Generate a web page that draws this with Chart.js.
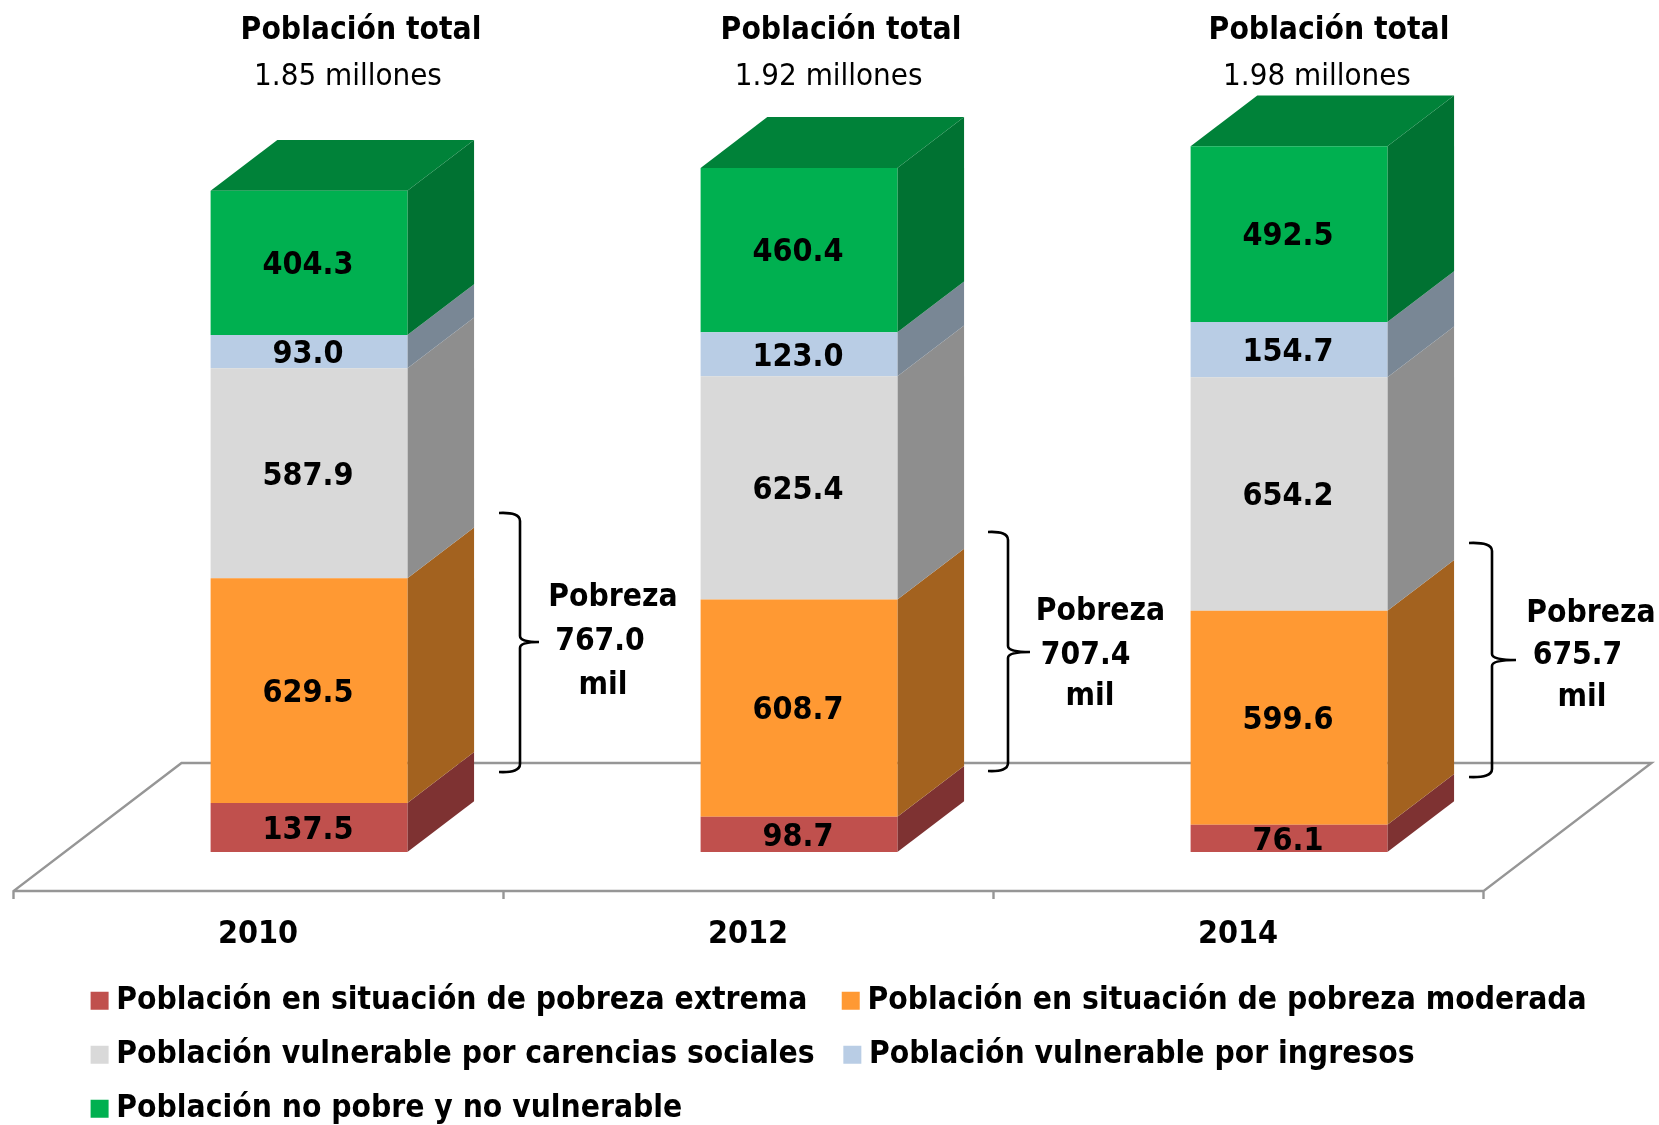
<!DOCTYPE html>
<html><head><meta charset="utf-8">
<style>html,body{margin:0;padding:0;background:#fff}#w{width:1659px;height:1125px}canvas{display:block}</style>
<script src="https://cdn.jsdelivr.net/npm/chart.js@4"></script>
</head><body><div id="w"><canvas id="c" width="1659" height="1125"></canvas></div>
<script>
const categories = ['2010','2012','2014'];
const extrema   = [137.5, 98.7, 76.1];
const moderada  = [629.5, 608.7, 599.6];
const carencias = [587.9, 625.4, 654.2];
const ingresos  = [93.0, 123.0, 154.7];
const noPobre   = [404.3, 460.4, 492.5];
const seriesNames = ['Población en situación de pobreza extrema','Población en situación de pobreza moderada','Población vulnerable por carencias sociales','Población vulnerable por ingresos','Población no pobre y no vulnerable'];
const totalTitle = 'Población total';
const totalLabels = ['1.85 millones','1.92 millones','1.98 millones'];
const pobrezaTitle = 'Pobreza';
const pobrezaValues = ['767.0','707.4','675.7'];
const pobrezaUnit = 'mil';

const FONT = '"DejaVu Sans Condensed","DejaVu Sans",sans-serif';
const FS = 32, TS = 31.5, SUB = 31, LEG = 31.5;
const frontColors = ['#C0504D','#FF9933','#D9D9D9','#B9CDE5','#00B050'];
const sideColors  = ['#7E3232','#A3621F','#8E8E8E','#798795','#007232'];
const topColor = '#008239';
const DX = 66.7, DY = 50.8;
const legendPad = ['\u2002\u2009','', '\u2002','',''];

// annotation placement, pixels
const titleX=[361,841,1329], subX=[348,828.6,1317];
const braceSpec=[{xs:499,xm:520,xt:539,top:513,mid:642,bot:772},{xs:988,xm:1008,xt:1030,top:532,mid:652,bot:771},{xs:1469,xm:1492,xt:1516,top:543,mid:660,bot:777}];
const pobText=[{a:613,b:600,c:603,y1:598,y2:642,y3:686},{a:1100.5,b:1085.6,c:1090,y1:612,y2:656,y3:697},{a:1591,b:1577.5,c:1582,y1:614,y2:656,y3:698}];

const view3d = {
  id:'view3d',
  afterLayout(chart){
    const l = chart.legend; l.left = 98.6 - (54-LEG); l.top = 962.5;
  },
  beforeDatasetsDraw(chart){
    const {ctx, scales:{x,y}} = chart;
    const base = y.getPixelForValue(0), step = x.getPixelForValue(1)-x.getPixelForValue(0);
    const fy = base+39, fx0 = x.getPixelForValue(0)-step/2-50.5, fx1 = fx0+step*3;
    const bdx = 168, bdy = 128;
    ctx.save();
    ctx.strokeStyle='#969696'; ctx.lineWidth=2.4;
    ctx.beginPath();
    ctx.moveTo(fx0,fy+8); ctx.lineTo(fx0,fy); ctx.lineTo(fx0+bdx,fy-bdy); ctx.lineTo(fx1+bdx,fy-bdy); ctx.lineTo(fx1,fy); ctx.lineTo(fx1,fy+8);
    ctx.moveTo(fx0,fy); ctx.lineTo(fx1,fy);
    for(let i=1;i<3;i++){ctx.moveTo(fx0+step*i,fy);ctx.lineTo(fx0+step*i,fy+8);}
    ctx.stroke();
    // side and top faces
    chart.data.datasets.forEach((d,di)=>{
      chart.getDatasetMeta(di).data.forEach(b=>{
        const r=b.x+b.width/2, l=b.x-b.width/2;
        ctx.fillStyle=sideColors[di];
        ctx.beginPath();ctx.moveTo(r,b.y);ctx.lineTo(r+DX,b.y-DY);ctx.lineTo(r+DX,b.base-DY);ctx.lineTo(r,b.base);ctx.closePath();ctx.fill();
        if(di===chart.data.datasets.length-1){
          ctx.fillStyle=topColor;
          ctx.beginPath();ctx.moveTo(l,b.y);ctx.lineTo(l+DX,b.y-DY);ctx.lineTo(r+DX,b.y-DY);ctx.lineTo(r,b.y);ctx.closePath();ctx.fill();
        }
      });
    });
    ctx.restore();
  },
  afterDatasetsDraw(chart){
    const {ctx}=chart;
    ctx.save();
    ctx.fillStyle='#000'; ctx.textAlign='center'; ctx.textBaseline='middle';
    ctx.font=`bold ${FS}px ${FONT}`;
    chart.data.datasets.forEach((d,di)=>{
      chart.getDatasetMeta(di).data.forEach((b,i)=>{
        ctx.fillText(d.data[i].toFixed(1), b.x-1, (b.y+b.base)/2+3);
      });
    });
    categories.forEach((c,i)=>{
      ctx.font=`bold ${TS}px ${FONT}`;
      ctx.fillText(totalTitle,titleX[i],31);
      ctx.font=`${SUB}px ${FONT}`;
      ctx.fillText(totalLabels[i],subX[i],77);
      ctx.font=`bold ${TS}px ${FONT}`;
      const p=pobText[i];
      ctx.fillText(pobrezaTitle,p.a,p.y1);
      ctx.fillText(pobrezaValues[i],p.b,p.y2);
      ctx.fillText(pobrezaUnit,p.c,p.y3);
      const s=braceSpec[i];
      ctx.strokeStyle='#000';ctx.lineWidth=2.6;
      ctx.beginPath();
      ctx.moveTo(s.xs,s.top);
      ctx.quadraticCurveTo(s.xm,s.top-1,s.xm,s.top+8);
      ctx.lineTo(s.xm,s.mid-6);
      ctx.quadraticCurveTo(s.xm,s.mid,s.xt,s.mid);
      ctx.quadraticCurveTo(s.xm,s.mid,s.xm,s.mid+6);
      ctx.lineTo(s.xm,s.bot-8);
      ctx.quadraticCurveTo(s.xm,s.bot+1,s.xs,s.bot);
      ctx.stroke();
    });
    ctx.restore();
  }
};

const mk=(i,data)=>({label:seriesNames[i],data,backgroundColor:frontColors[i],borderWidth:0,barPercentage:0.4016,categoryPercentage:1,stack:'s'});
new Chart(document.getElementById('c'),{
  type:'bar',
  data:{labels:categories,datasets:[mk(0,extrema),mk(1,moderada),mk(2,carencias),mk(3,ingresos),mk(4,noPobre)]},
  options:{
    responsive:false,animation:false,
    layout:{padding:{left:64,right:0,top:138,bottom:0}},
    plugins:{
      tooltip:{enabled:false},title:{display:false},
      legend:{position:'bottom',align:'start',maxHeight:125,labels:{
        color:'#000',font:{family:FONT,size:LEG,weight:'bold'},
        usePointStyle:true,pointStyle:'rect',boxWidth:2,boxHeight:18,padding:54-LEG,
        generateLabels(chart){
          return chart.data.datasets.map((d,i)=>({text:d.label+legendPad[i],fillStyle:d.backgroundColor,strokeStyle:d.backgroundColor,lineWidth:0,pointStyle:'rect',datasetIndex:i,fontColor:'#000'}));
        }
      }}
    },
    scales:{
      x:{stacked:true,grid:{display:false},border:{display:false},
        ticks:{color:'#000',font:{family:FONT,size:FS,weight:'bold'},labelOffset:-51,padding:55,maxRotation:0},
        afterFit(s){s.height=148;}
      },
      y:{stacked:true,position:'right',min:0,max:2000,grid:{display:false},border:{display:false},ticks:{display:false},
        afterFit(s){s.width=125;}}
    }
  },
  plugins:[view3d]
});
</script></body></html>
